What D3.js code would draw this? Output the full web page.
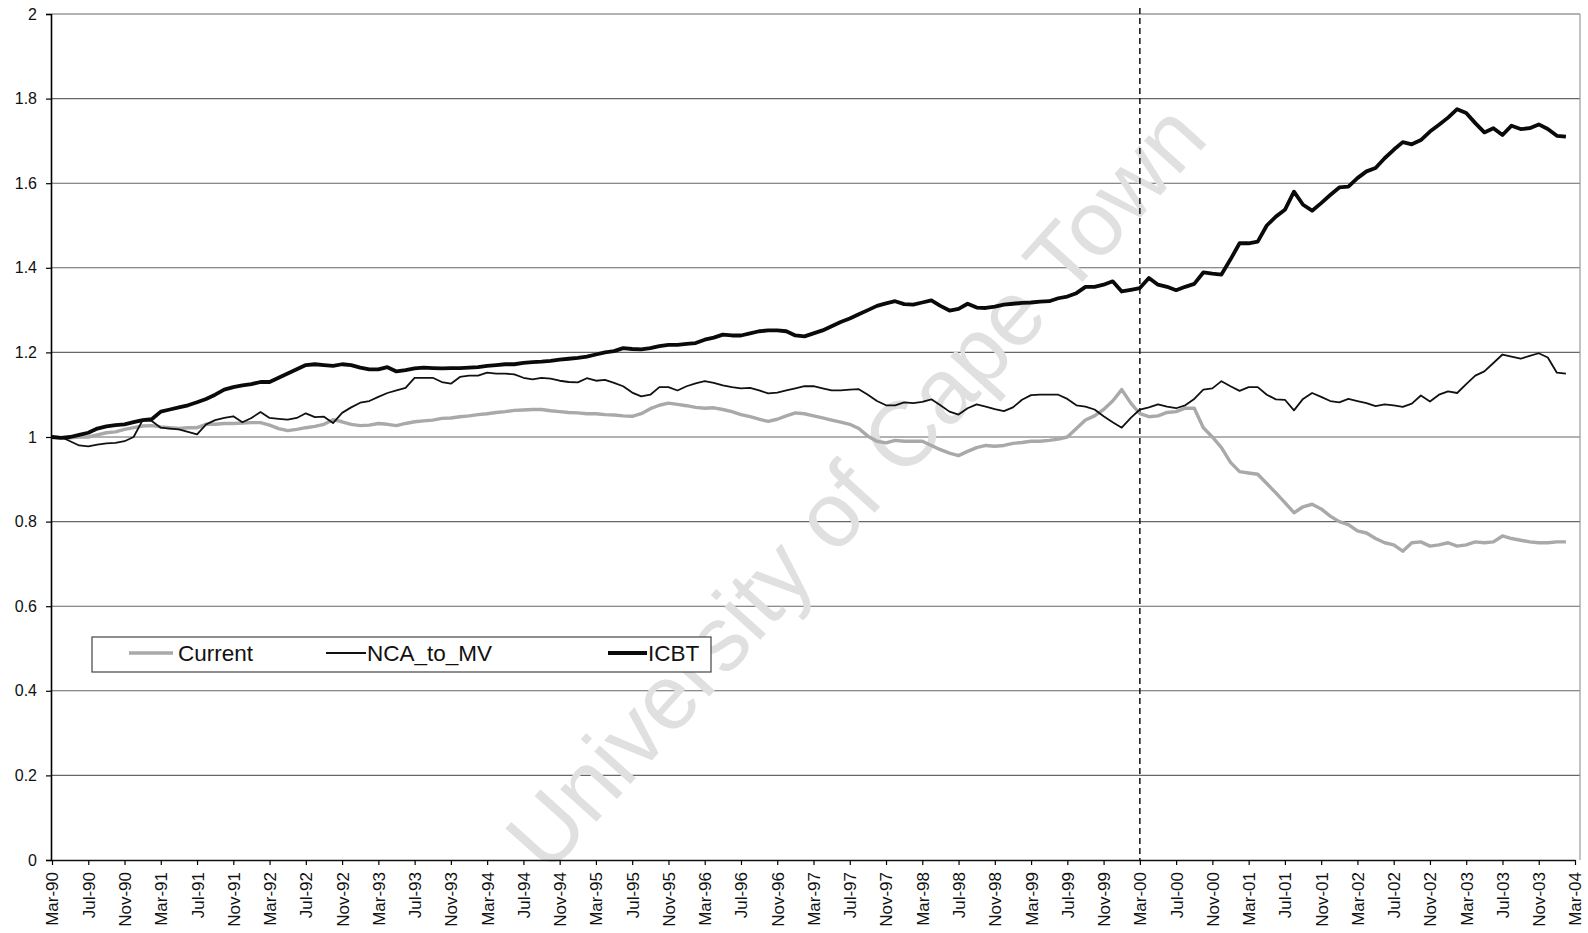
<!DOCTYPE html>
<html>
<head>
<meta charset="utf-8">
<script src="https://cdn.jsdelivr.net/npm/d3@7"></script>
<style>
  html, body { margin: 0; padding: 0; background: #fff; }
  svg { display: block; }
  text { font-family: "Liberation Sans", Arial, sans-serif; }
</style>
</head>
<body>
<svg id="chart" width="1588" height="933"></svg>
<script>
// Monthly index values, Mar-90 .. Feb-04 (base Mar-90 = 1)
const current = [
  1.000, 0.998, 0.998, 1.000, 1.000, 1.005, 1.010, 1.012, 1.018, 1.022, 1.026, 1.027,
  1.024, 1.022, 1.020, 1.022, 1.022, 1.030, 1.030, 1.032, 1.032, 1.033, 1.034, 1.034,
  1.028, 1.020, 1.015, 1.018, 1.022, 1.025, 1.030, 1.041, 1.036, 1.030, 1.027, 1.028,
  1.032, 1.030, 1.027, 1.032, 1.036, 1.038, 1.040, 1.044, 1.045, 1.048, 1.050, 1.053,
  1.055, 1.058, 1.060, 1.063, 1.064, 1.065, 1.065, 1.062, 1.060, 1.058, 1.057, 1.055,
  1.055, 1.053, 1.052, 1.050, 1.049, 1.055, 1.067, 1.075, 1.080, 1.077, 1.074, 1.070,
  1.068, 1.069, 1.065, 1.060, 1.053, 1.048, 1.042, 1.037, 1.042, 1.050, 1.057, 1.055,
  1.050, 1.045, 1.040, 1.035, 1.030, 1.020, 1.002, 0.990, 0.986, 0.992, 0.990, 0.990,
  0.990, 0.980, 0.970, 0.962, 0.956, 0.966, 0.975, 0.980, 0.978, 0.980, 0.985, 0.987,
  0.990, 0.990, 0.992, 0.995, 1.000, 1.020, 1.040, 1.050, 1.065, 1.085, 1.112, 1.080,
  1.055, 1.048, 1.050, 1.058, 1.060, 1.068, 1.068, 1.022, 1.000, 0.975, 0.940, 0.918,
  0.915, 0.912, 0.890, 0.868, 0.845, 0.821, 0.835, 0.841, 0.830, 0.813, 0.800, 0.793,
  0.778, 0.773, 0.760, 0.750, 0.745, 0.730, 0.750, 0.752, 0.742, 0.745, 0.750, 0.742,
  0.745, 0.752, 0.750, 0.752, 0.766, 0.760, 0.756, 0.752, 0.750, 0.750, 0.752, 0.752
];
const ncaToMv = [
  1.000, 1.000, 0.990, 0.980, 0.978, 0.982, 0.985, 0.986, 0.990, 1.000, 1.040, 1.038,
  1.022, 1.020, 1.018, 1.012, 1.006, 1.030, 1.040, 1.045, 1.049, 1.035, 1.045, 1.059,
  1.045, 1.043, 1.041, 1.045, 1.056, 1.047, 1.048, 1.033, 1.057, 1.070, 1.081, 1.085,
  1.095, 1.104, 1.110, 1.116, 1.140, 1.140, 1.140, 1.130, 1.126, 1.142, 1.145, 1.145,
  1.152, 1.150, 1.150, 1.148, 1.140, 1.136, 1.140, 1.138, 1.133, 1.130, 1.129, 1.139,
  1.133, 1.135, 1.128, 1.120, 1.105, 1.096, 1.100, 1.118, 1.118, 1.110, 1.120, 1.127,
  1.132, 1.128, 1.122, 1.118, 1.115, 1.116, 1.110, 1.103, 1.105, 1.110, 1.115, 1.120,
  1.120, 1.115, 1.110, 1.110, 1.112, 1.113, 1.100, 1.085, 1.075, 1.075, 1.082, 1.080,
  1.083, 1.089, 1.075, 1.060, 1.053, 1.068, 1.077, 1.072, 1.066, 1.061, 1.070, 1.088,
  1.099, 1.100, 1.100, 1.100, 1.090, 1.075, 1.072, 1.065, 1.049, 1.035, 1.022, 1.045,
  1.065, 1.070, 1.077, 1.072, 1.068, 1.075, 1.090, 1.112, 1.115, 1.132, 1.120, 1.109,
  1.118, 1.118, 1.100, 1.089, 1.088, 1.063, 1.090, 1.104, 1.095, 1.085, 1.082, 1.090,
  1.085, 1.080, 1.073, 1.077, 1.075, 1.071, 1.079, 1.098, 1.084, 1.100, 1.108, 1.104,
  1.125, 1.145, 1.155, 1.175, 1.195, 1.190, 1.185, 1.192, 1.198, 1.188, 1.152, 1.150
];
const icbt = [
  1.000, 0.998, 1.000, 1.005, 1.010, 1.020, 1.025, 1.028, 1.030, 1.035, 1.040, 1.042,
  1.060, 1.065, 1.070, 1.075, 1.082, 1.090, 1.100, 1.112, 1.118, 1.122, 1.125, 1.130,
  1.130, 1.140, 1.150, 1.160, 1.170, 1.172, 1.170, 1.168, 1.172, 1.170, 1.164, 1.160,
  1.160, 1.165, 1.155, 1.158, 1.162, 1.164, 1.163, 1.162, 1.163, 1.163, 1.164, 1.165,
  1.168, 1.170, 1.172, 1.172, 1.175, 1.177, 1.178, 1.180, 1.183, 1.185, 1.187, 1.190,
  1.195, 1.200, 1.203, 1.210, 1.208, 1.207, 1.210, 1.215, 1.218, 1.218, 1.220, 1.222,
  1.230, 1.235, 1.242, 1.240, 1.240, 1.245, 1.250, 1.252, 1.252, 1.250, 1.240, 1.238,
  1.245, 1.252, 1.262, 1.272, 1.280, 1.290, 1.300, 1.310, 1.316, 1.321, 1.314, 1.313,
  1.318, 1.323, 1.310, 1.299, 1.303, 1.315, 1.306, 1.305, 1.308, 1.313, 1.315, 1.317,
  1.318, 1.320, 1.321, 1.328, 1.332, 1.340, 1.355, 1.355, 1.360, 1.368, 1.344, 1.348,
  1.352, 1.376, 1.360, 1.355, 1.347, 1.355, 1.362, 1.389, 1.386, 1.384, 1.420, 1.458,
  1.458, 1.462, 1.500, 1.521, 1.537, 1.580, 1.549, 1.535, 1.553, 1.572, 1.590, 1.592,
  1.612, 1.628, 1.636, 1.659, 1.679, 1.697, 1.692, 1.702, 1.722, 1.738, 1.755, 1.775,
  1.766, 1.742, 1.720, 1.730, 1.714, 1.736, 1.728, 1.730, 1.739, 1.728, 1.712, 1.710
];

// Category axis: every month from Mar-90 to Mar-04
const months = d3.timeMonth.range(new Date(1990, 2, 1), new Date(2004, 3, 1));
const fmtMonth = d3.timeFormat("%b-%y");
const categories = months.map(fmtMonth);
const tickLabels = categories.filter((c, i) => i % 4 === 0);
const yTicks = d3.range(0, 11).map(i => +(i * 0.2).toFixed(1));
const markerCategory = "Mar-00";

const seriesList = [
  { name: "Current",   values: current, color: "#a9a9a9", width: 3.4 },
  { name: "NCA_to_MV", values: ncaToMv, color: "#111",    width: 1.8 },
  { name: "ICBT",      values: icbt,    color: "#0a0a0a", width: 3.8 }
];

const svg = d3.select("#chart");
const plotLeft = 52, plotRight = 1575, plotTop = 14, plotBottom = 860, borderX = 1580;

const x = d3.scalePoint().domain(categories).range([plotLeft, plotRight]);
const y = d3.scaleLinear().domain([0, 2]).range([plotBottom, plotTop]);

// horizontal gridlines
svg.append("g")
  .selectAll("line")
  .data(yTicks.filter(v => v > 0))
  .join("line")
  .attr("x1", plotLeft).attr("x2", borderX)
  .attr("y1", d => y(d)).attr("y2", d => y(d))
  .attr("stroke", "#666").attr("stroke-width", 1.1);

// right border of plot area
svg.append("line")
  .attr("x1", borderX).attr("x2", borderX).attr("y1", plotTop).attr("y2", plotBottom)
  .attr("stroke", "#9a9a9a").attr("stroke-width", 1.2);

// watermark
svg.append("text")
  .attr("transform", "translate(879,508) rotate(-48)")
  .attr("text-anchor", "middle")
  .attr("font-size", 92)
  .attr("fill", "#e0e0e0")
  .text("University of Cape Town");

// y axis
const yAxis = svg.append("g")
  .attr("transform", `translate(${plotLeft - 1},0)`)
  .call(d3.axisLeft(y).tickValues(yTicks).tickFormat(d3.format("~g")).tickSize(5).tickPadding(9));
yAxis.select(".domain").attr("stroke", "#000").attr("stroke-width", 1.6);
yAxis.selectAll(".tick line").attr("stroke", "#000").attr("stroke-width", 1.2);
yAxis.selectAll(".tick text")
  .attr("font-size", 16).attr("fill", "#111")
  .style("font-family", "'Liberation Sans', Arial, sans-serif");

// x axis
const xAxis = svg.append("g")
  .attr("transform", `translate(0,${plotBottom})`)
  .call(d3.axisBottom(x).tickValues(tickLabels).tickSize(5).tickSizeOuter(0));
xAxis.select(".domain").attr("stroke", "#111").attr("stroke-width", 1.4);
xAxis.selectAll(".tick line").attr("stroke", "#000").attr("stroke-width", 1.2);
xAxis.selectAll(".tick text")
  .attr("font-size", 17).attr("fill", "#111")
  .style("font-family", "'Liberation Sans', Arial, sans-serif")
  .attr("text-anchor", "end")
  .attr("dy", "0.35em")
  .attr("transform", "translate(0,12) rotate(-90)")
  .attr("x", 0).attr("y", 0);

// dashed marker at Mar-00
svg.append("line")
  .attr("x1", x(markerCategory)).attr("x2", x(markerCategory))
  .attr("y1", plotTop - 6).attr("y2", plotBottom)
  .attr("stroke", "#111").attr("stroke-width", 1.5)
  .attr("stroke-dasharray", "6,4");

// series lines
const line = d3.line()
  .x((d, i) => x(categories[i]))
  .y(d => y(d));

svg.append("g")
  .selectAll("path")
  .data(seriesList)
  .join("path")
  .attr("d", s => line(s.values))
  .attr("fill", "none")
  .attr("stroke", s => s.color)
  .attr("stroke-width", s => s.width)
  .attr("stroke-linejoin", "round");

// legend
const legend = svg.append("g");
legend.append("rect")
  .attr("x", 92).attr("y", 637).attr("width", 619).attr("height", 35)
  .attr("fill", "#fff").attr("stroke", "#444").attr("stroke-width", 1.2);

const legendItems = [
  { s: seriesList[0], x0: 129, x1: 173, tx: 178 },
  { s: seriesList[1], x0: 326, x1: 366, tx: 367 },
  { s: seriesList[2], x0: 608, x1: 647, tx: 648 }
];
legendItems.forEach(it => {
  legend.append("line")
    .attr("x1", it.x0).attr("x2", it.x1).attr("y1", 653).attr("y2", 653)
    .attr("stroke", it.s.color).attr("stroke-width", it.s.width);
  legend.append("text")
    .attr("x", it.tx).attr("y", 661)
    .attr("font-size", 22.5).attr("fill", "#111")
    .text(it.s.name);
});
</script>
</body>
</html>
